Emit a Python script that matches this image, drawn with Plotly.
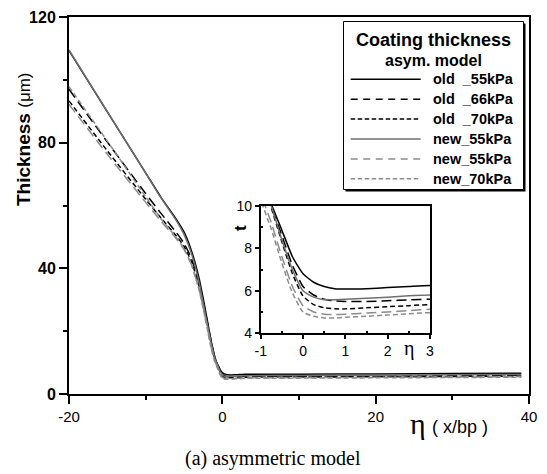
import plotly.graph_objects as go

# ---------------- data ----------------
ETA = [-20, -15, -10, -8, -6, -5, -4, -3, -2.5, -2, -1.5, -1, -0.75, -0.5, -0.25,
       0, 0.25, 0.5, 0.75, 1, 1.5, 2, 2.5, 3, 10, 20, 30, 39]

old_55 = [109.3, 89.8, 70.4, 62.6, 55.6, 51.6, 45.4, 36.5, 30.5, 24.0, 17.5, 12.0, 10.1, 8.85, 7.6,
          6.8, 6.4, 6.2, 6.1, 6.08, 6.1, 6.15, 6.2, 6.25, 6.3, 6.4, 6.5, 6.6]
old_66 = [97.0, 80.2, 63.8, 57.5, 51.4, 48.0, 43.0, 35.0, 29.5, 23.5, 17.2, 11.8, 10.0, 8.6, 7.2,
          6.2, 5.8, 5.6, 5.52, 5.5, 5.5, 5.53, 5.57, 5.6, 5.65, 5.75, 5.85, 5.95]
old_70 = [93.3, 77.4, 62.0, 56.0, 50.3, 47.0, 42.0, 34.0, 28.5, 22.8, 16.6, 11.4, 9.9, 8.3, 6.8,
          5.75, 5.35, 5.2, 5.15, 5.15, 5.2, 5.25, 5.3, 5.35, 5.4, 5.5, 5.6, 5.7]
new_55 = [109.5, 89.9, 70.3, 62.4, 55.2, 50.8, 44.5, 35.2, 29.0, 22.7, 16.8, 11.4, 10.0, 8.4, 7.0,
          6.0, 5.7, 5.58, 5.58, 5.6, 5.65, 5.7, 5.76, 5.8, 5.9, 6.0, 6.1, 6.2]
new_55b = [92.2, 76.3, 61.0, 55.0, 49.4, 46.0, 41.0, 33.0, 27.5, 21.6, 15.4, 10.6, 9.2, 7.6, 6.2,
           5.3, 5.0, 4.9, 4.88, 4.9, 4.95, 5.0, 5.07, 5.13, 5.2, 5.3, 5.4, 5.5]
new_70 = [97.8, 80.5, 62.8, 55.8, 49.8, 46.3, 41.0, 32.8, 27.2, 21.2, 15.0, 10.3, 8.9, 7.3, 5.9,
          5.0, 4.8, 4.72, 4.72, 4.75, 4.8, 4.86, 4.92, 4.97, 5.05, 5.15, 5.25, 5.35]

SERIES_NAMES = ["old\u00a0 _55kPa", "old\u00a0 _66kPa", "old\u00a0 _70kPa",
                "new_55kPa", "new_55kPa", "new_70kPa"]
SERIES_VALUES = [old_55, old_66, old_70, new_55, new_55b, new_70]

MAIN_XTICKS = [-20, 0, 20, 40]
MAIN_XLABELS = ["-20", "0", "20", "40"]
MAIN_XMINOR = [-10, 10, 30]
MAIN_YTICKS = [0, 40, 80, 120]
MAIN_YMINOR = [20, 60, 100]
INSET_XTICKS = [-1, 0, 1, 2, 3]
INSET_XLABELS = ["-1", "0", "1", "2", "3"]
INSET_XMINOR = [-0.5, 0.5, 1.5, 2.5]
INSET_YTICKS = [4, 6, 8, 10]
INSET_YMINOR = [5, 7, 9]

# ---------------- styles ----------------
STYLES = [
    dict(color="black", width=1.5, dash="solid"),
    dict(color="black", width=1.5, dash="10px,5px"),
    dict(color="black", width=1.5, dash="5px,3px"),
    dict(color="#6f6f6f", width=1.5, dash="solid"),
    dict(color="#8c8c8c", width=1.5, dash="10px,5px"),
    dict(color="#8c8c8c", width=1.5, dash="5px,3px"),
]
LEG_DASH = ["solid", "7px,5.5px", "4.5px,2.5px", "solid", "7px,5.5px", "4.5px,2.5px"]

W, H = 547, 474
L, R, T, B = 69, 529, 17, 394


def PX(px):
    return (px - L) / (R - L)


def PY(py):
    return (B - py) / (B - T)


SANS = "Liberation Sans, Arial, sans-serif"
SERIF = "Liberation Serif, Times New Roman, serif"

fig = go.Figure()
for vals, st, nm in zip(SERIES_VALUES, STYLES, SERIES_NAMES):
    for xa, ya in (("x", "y"), ("x2", "y2")):
        fig.add_trace(go.Scatter(x=ETA, y=vals, mode="lines", name=nm,
                                 xaxis=xa, yaxis=ya, showlegend=False,
                                 line=dict(color=st["color"], width=st["width"],
                                           dash=st["dash"], shape="spline", smoothing=0.5),
                                 hoverinfo="skip"))

axis_common = dict(showgrid=False, zeroline=False, showline=True, linecolor="black",
                   mirror=True, tickcolor="black", ticks="outside", automargin=False)

fig.update_layout(
    width=W, height=H,
    margin=dict(l=L, r=W - R, t=T, b=H - B, pad=0, autoexpand=False),
    paper_bgcolor="white", plot_bgcolor="white",
    showlegend=False,
    xaxis=dict(domain=[0, 1], range=[-20, 40], tickvals=MAIN_XTICKS, ticktext=MAIN_XLABELS,
               ticklen=8, tickwidth=2,
               linewidth=2, tickfont=dict(family=SANS, size=15, color="black"),
               minor=dict(tickvals=MAIN_XMINOR, ticks="outside", ticklen=4, tickwidth=2,
                          tickcolor="black"), **axis_common),
    yaxis=dict(domain=[0, 1], range=[0, 120], tickvals=MAIN_YTICKS, ticklen=8, tickwidth=2,
               linewidth=2, tickfont=dict(family=SANS, size=16, color="black", weight="bold"),
               minor=dict(tickvals=MAIN_YMINOR, ticks="outside", ticklen=4, tickwidth=2,
                          tickcolor="black"), **axis_common),
    xaxis2=dict(domain=[PX(260.7), PX(430)], anchor="y2", range=[-1, 3], tickvals=INSET_XTICKS,
                ticktext=INSET_XLABELS,
                ticklen=4, tickwidth=1.5, linewidth=1.5,
                tickfont=dict(family=SANS, size=14, color="black"),
                minor=dict(tickvals=INSET_XMINOR, ticks="inside", ticklen=3, tickwidth=1.5,
                           tickcolor="black"), **axis_common),
    yaxis2=dict(domain=[PY(333.3), PY(205.7)], anchor="x2", range=[4, 10], tickvals=INSET_YTICKS,
                ticklen=4, tickwidth=1.5, linewidth=1.5,
                tickfont=dict(family=SANS, size=14, color="black"),
                minor=dict(tickvals=INSET_YMINOR, ticks="inside", ticklen=3, tickwidth=1.5,
                           tickcolor="black"), **axis_common),
)

annotations = []
shapes = []

# y-axis title
annotations.append(dict(xref="paper", yref="paper", x=PX(23), y=PY(139), textangle=-90,
                        xanchor="center", yanchor="middle", showarrow=False,
                        text="<b>Thickness</b> <span style='font-size:17px'>(\u03bcm)</span>",
                        font=dict(family=SANS, size=19, color="black")))
# x-axis title
annotations.append(dict(xref="paper", yref="paper", x=PX(418), y=PY(423), xanchor="center",
                        yanchor="middle", showarrow=False, text="\u03b7",
                        font=dict(family=SERIF, size=30, color="black")))
annotations.append(dict(xref="paper", yref="paper", x=PX(460), y=PY(427), xanchor="center",
                        yanchor="middle", showarrow=False, text="( x/bp )",
                        font=dict(family=SANS, size=18, color="black")))
# caption
annotations.append(dict(xref="paper", yref="paper", x=PX(273), y=PY(458), xanchor="center",
                        yanchor="middle", showarrow=False, text="(a) asymmetric model",
                        font=dict(family=SERIF, size=20, color="black")))
# inset labels
annotations.append(dict(xref="paper", yref="paper", x=PX(240), y=PY(228), textangle=-90,
                        xanchor="center", yanchor="middle", showarrow=False, text="<b>t</b>",
                        font=dict(family=SANS, size=17, color="black")))
annotations.append(dict(xref="paper", yref="paper", x=PX(409), y=PY(348), xanchor="center",
                        yanchor="middle", showarrow=False, text="\u03b7",
                        font=dict(family=SERIF, size=20, color="black")))

# legend box (with shadow)
shapes.append(dict(type="rect", xref="paper", yref="paper", x0=PX(345.5), x1=PX(525.5),
                   y0=PY(191.5), y1=PY(23.5), fillcolor="black", line=dict(width=0), layer="above"))
shapes.append(dict(type="rect", xref="paper", yref="paper", x0=PX(343.5), x1=PX(523.5),
                   y0=PY(189.5), y1=PY(21.5), fillcolor="white",
                   line=dict(color="black", width=1), layer="above"))
annotations.append(dict(xref="paper", yref="paper", x=PX(433.5), y=PY(40.5), xanchor="center",
                        yanchor="middle", showarrow=False, text="<b>Coating thickness</b>",
                        font=dict(family=SANS, size=18, color="black")))
annotations.append(dict(xref="paper", yref="paper", x=PX(433.5), y=PY(60.5), xanchor="center",
                        yanchor="middle", showarrow=False, text="<b>asym. model</b>",
                        font=dict(family=SANS, size=16, color="black")))
for i, (nm, st, dsh) in enumerate(zip(SERIES_NAMES, STYLES, LEG_DASH)):
    yy = 79.3 + 19.9 * i
    shapes.append(dict(type="line", xref="paper", yref="paper", x0=PX(350.7), x1=PX(420.7),
                       y0=PY(yy), y1=PY(yy), layer="above",
                       line=dict(color=st["color"], width=1.5, dash=dsh)))
    annotations.append(dict(xref="paper", yref="paper", x=PX(431), y=PY(yy), xanchor="left",
                            yanchor="middle", showarrow=False, text="<b>" + nm + "</b>",
                            font=dict(family=SANS, size=14.5, color="black")))

fig.update_layout(annotations=annotations, shapes=shapes)
fig.write_html("out.html", config={"displayModeBar": False},
               post_script="document.body.style.margin='0';document.body.style.padding='0';")
